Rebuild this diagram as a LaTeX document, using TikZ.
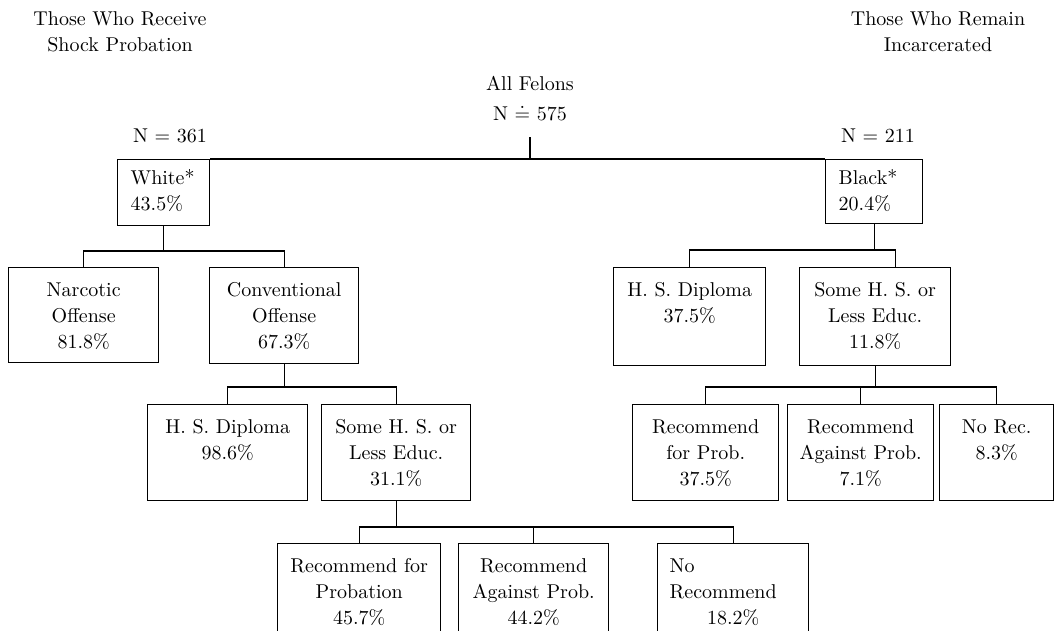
\documentclass[tikz,border=0pt]{standalone}
\usepackage{amsmath}
\usepackage{amssymb}
\tikzset{
  cellbox/.style={draw, line width=0.7pt, inner sep=0pt, anchor=north west},
  txt/.style={inner sep=0pt, align=center}
}
\newcommand{\cell}[3]{\parbox[c][#2][t]{#1}{\centering\rule{0pt}{14.5pt}#3}}
\newcommand{\lcell}[3]{\parbox[c][#2][t]{#1}{\raggedright\leftskip=6.5pt\rule{0pt}{12.5pt}#3}}

\begin{document}
\begin{tikzpicture}[x=0.5pt,y=-0.5pt,line width=0.7pt,font=\fontsize{10}{13}\selectfont]
\useasboundingbox (0,0) rectangle (1055,631);
\clip (0,0) rectangle (1055,631);

\node[txt,anchor=north] (recv) at (120,11) {Those Who Receive\\Shock Probation};
\node[txt,anchor=north] (remain) at (938,11) {Those Who Remain\\Incarcerated};
\node[txt,anchor=north] (felons) at (530,75) {All Felons\\[2pt]N $\doteq$ 575};
\node[txt,anchor=base] (nw) at (170,142) {N $=$ 361};
\node[txt,anchor=base] (nb) at (878,142) {N $=$ 211};

\node[cellbox] (white) at (117,159) {\lcell{46pt}{33pt}{White*\\43.5\%}};
\node[cellbox] (black) at (825,159) {\lcell{48.5pt}{32pt}{Black*\\20.4\%}};

\node[cellbox] (narc) at (8,267) {\cell{75pt}{47.5pt}{Narcotic\\Offense\\81.8\%}};
\node[cellbox] (conv) at (209,267) {\cell{74.5pt}{48pt}{Conventional\\Offense\\67.3\%}};
\node[cellbox] (hsL) at (147,404) {\cell{80pt}{48pt}{H. S. Diploma\\98.6\%}};
\node[cellbox] (someL) at (321,404) {\cell{74.5pt}{48pt}{Some H. S. or\\Less Educ.\\31.1\%}};
\node[cellbox] (recF) at (277,543) {\cell{81.5pt}{52pt}{Recommend for\\Probation\\45.7\%}};
\node[cellbox] (recA) at (458,543) {\cell{75pt}{52pt}{Recommend\\Against Prob.\\44.2\%}};
\node[cellbox] (noR) at (657,543) {\cell{75.5pt}{52pt}{\makebox[\linewidth][l]{\hspace{6pt}No}\\\makebox[\linewidth][l]{\hspace{6pt}Recommend}\\18.2\%}};

\node[cellbox] (hsR) at (613,267) {\cell{76pt}{49pt}{H. S. Diploma\\37.5\%}};
\node[cellbox] (someR) at (799,267) {\cell{75.5pt}{49pt}{Some H. S. or\\Less Educ.\\11.8\%}};
\node[cellbox] (rfR) at (632,404) {\cell{73pt}{48pt}{Recommend\\for Prob.\\37.5\%}};
\node[cellbox] (raR) at (787,404) {\cell{73pt}{48pt}{Recommend\\Against Prob.\\7.1\%}};
\node[cellbox] (nrR) at (939,404) {\cell{57pt}{48pt}{No Rec.\\8.3\%}};

\draw ([yshift=-8pt]felons.south) -- (felons.south |- white.north);
\draw (white.north east) -- (black.north west);

\draw (white.south) -- (white.south |- 0,251) coordinate (wj);
\draw (narc.north) |- (wj) -| (conv.north);
\draw (conv.south) -- (conv.south |- 0,387) coordinate (cj);
\draw (hsL.north) |- (cj) -| (someL.north);
\draw (someL.south) -- (someL.south |- 0,527) coordinate (sj);
\draw (recF.north) |- (sj) -| (noR.north);
\draw (recA.north) -- (recA.north |- sj);

\draw (black.south) -- (black.south |- 0,250) coordinate (bj);
\draw (hsR.north) |- (bj) -| ([xshift=10pt]someR.north);
\draw (someR.south) -- (someR.south |- 0,387) coordinate (rj);
\draw (rfR.north) |- (rj) -| (nrR.north);
\draw (raR.north) -- (raR.north |- rj);
\end{tikzpicture}
\end{document}
